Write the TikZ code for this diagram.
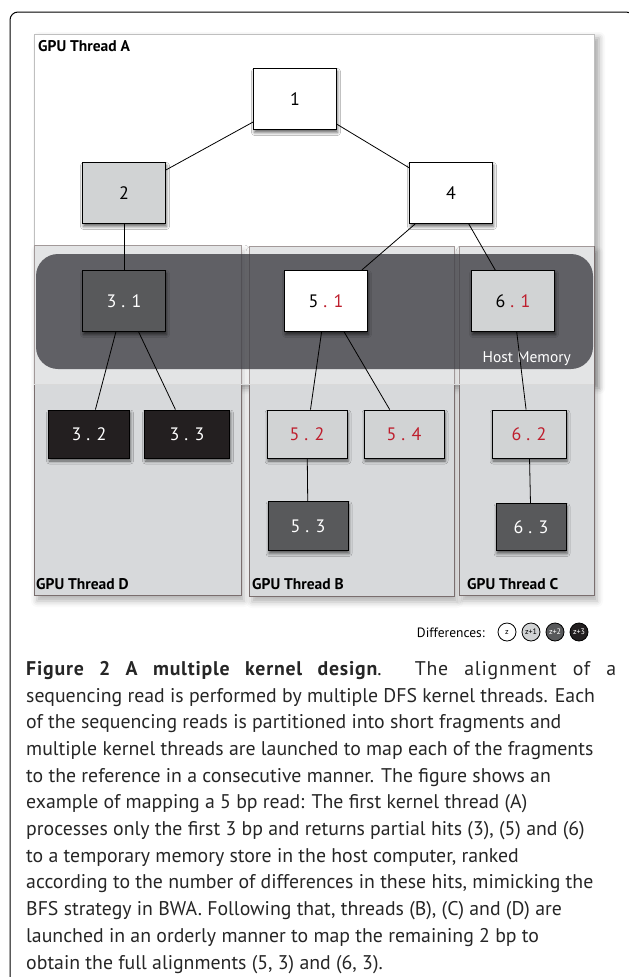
\documentclass[tikz,border=0pt]{standalone}
\usepackage{fontspec}
\setmainfont{PT Sans}
\usetikzlibrary{shadows,shadows.blur}
\definecolor{boxlight}{HTML}{D1D3D4}
\definecolor{boxdark}{HTML}{58595B}
\definecolor{boxblack}{HTML}{231F20}
\definecolor{diffred}{HTML}{BE1E2D}
\definecolor{panelfill}{HTML}{D7D9DB}
\definecolor{panelline}{HTML}{7A6E6E}
\definecolor{hostgray}{HTML}{3C3C42}

\begin{document}
\begin{tikzpicture}
[x=1pt,y=-1pt,-,%
  hit/.style={shape=rectangle,draw=black,line width=0.9pt,inner sep=0pt,%
    minimum width=83pt,minimum height=61pt,%
    font=\fontsize{18}{20}\selectfont,%
    blur shadow={shadow xshift=1pt,shadow yshift=-3pt,shadow blur radius=3pt,shadow opacity=60}},%
  hitsmall/.style={hit,minimum width=80pt,minimum height=48pt},%
  panel/.style={draw=panelline,line width=1pt,fill=panelfill,%
    blur shadow={shadow xshift=3pt,shadow yshift=-6pt,shadow blur radius=6pt,shadow opacity=30}},%
  thread/.style={anchor=west,inner sep=0pt,font=\fontsize{15.5}{17}\selectfont\bfseries},%
  diff/.style={shape=circle,draw=black,line width=0.8pt,inner sep=0pt,%
    minimum size=18pt,font=\fontsize{8}{9}\selectfont}]
\useasboundingbox (0,0) rectangle (629,977);
% outer frame
\draw[line width=1pt,rounded corners=8pt] (10,990) -- (10,12) -- (634,12) -- (634,990);
% thread panels
\draw[draw=black!25,line width=1pt,fill=white,%
  blur shadow={shadow xshift=5pt,shadow yshift=-4pt,shadow blur radius=6pt,shadow opacity=35}]
  (34,34) rectangle (594,384);
\draw[panel] (34,245) rectangle (241,595);
\draw[panel] (249,246) rectangle (454,596);
\draw[panel] (459,246) rectangle (594,595);
\fill[white,opacity=0.3] (34,245) rectangle (594,384);
\draw[black!15,line width=1pt] (34,384) -- (594,384);
% host memory
\fill[hostgray,opacity=0.78,rounded corners=22pt] (36,254) rectangle (593,369);
\node[anchor=east,inner sep=0pt,white,font=\fontsize{15.5}{17}\selectfont] (host) at (571,359) {Host Memory};
% hits
\node[hit,fill=white] (1) at (295,99) {1};
\node[hit,fill=boxlight] (2) at (124,193) {2};
\node[hit,fill=white] (4) at (451,193) {4};
\node[hit,fill=boxdark,text=white] (31) at (124,301) {3 . 1};
\node[hit,fill=white] (51) at (326,301) {5 \textcolor{diffred}{. 1}};
\node[hit,fill=boxlight] (61) at (513,301) {6 \textcolor{diffred}{. 1}};
\node[hitsmall,fill=boxblack,text=white,minimum width=81pt] (32) at (89,434) {3 . 2};
\node[hitsmall,fill=boxblack,text=white,minimum width=85pt] (33) at (187,434) {3 . 3};
\node[hitsmall,fill=boxlight,text=diffred] (52) at (307,434) {5 . 2};
\node[hitsmall,fill=boxlight,text=diffred] (54) at (404,434) {5 . 4};
\node[hitsmall,fill=boxlight,text=diffred,minimum width=74pt] (62) at (529,434) {6 . 2};
\node[hitsmall,fill=boxdark,text=white,minimum height=49pt] (53) at (308,526) {5 . 3};
\node[hitsmall,fill=boxdark,text=white,minimum width=70pt,minimum height=47pt] (63) at (531,527) {6 . 3};
\path[line width=0.8pt]
(1) edge (2)
(1) edge (4)
(2) edge (31)
(4) edge (51)
(4) edge (61)
(31) edge (32)
(31) edge (33)
(51) edge (52)
(51) edge (54)
(52) edge (53)
(61) edge (62)
(62) edge (63);
% thread names
\node[thread] (threadA) at (38,46) {GPU Thread A};
\node[thread] (threadD) at (36,584) {GPU Thread D};
\node[thread] (threadB) at (252,584) {GPU Thread B};
\node[thread] (threadC) at (467,584) {GPU Thread C};
% legend
\node[anchor=east,inner sep=0pt,font=\fontsize{13.5}{15}\selectfont] (difflabel) at (485,633) {Differences:};
\node[diff,fill=white] (z0) at (507,632) {z};
\node[diff,fill=boxlight] (z1) at (531,632) {z+1};
\node[diff,fill=boxdark,text=white] (z2) at (555,632) {z+2};
\node[diff,fill=boxblack,text=white] (z3) at (579,632) {z+3};
% caption
\node[anchor=north west,inner sep=0pt,align=left,text=black!85,%
  font=\fontsize{19.8}{26.7}\selectfont] (caption) at (26,661)
{\makebox[590pt][s]{\textbf{\addfontfeature{LetterSpace=4}Figure 2 A multiple kernel design}.
  \addfontfeature{LetterSpace=4}The alignment of a}\\
sequencing read is performed by multiple DFS kernel threads. Each\\
of the sequencing reads is partitioned into short fragments and\\
multiple kernel threads are launched to map each of the fragments\\
to the reference in a consecutive manner. The figure shows an\\
example of mapping a 5 bp read: The first kernel thread (A)\\
processes only the first 3 bp and returns partial hits (3), (5) and (6)\\
to a temporary memory store in the host computer, ranked\\
according to the number of differences in these hits, mimicking the\\
BFS strategy in BWA. Following that, threads (B), (C) and (D) are\\
launched in an orderly manner to map the remaining 2 bp to\\
obtain the full alignments (5, 3) and (6, 3).};
\end{tikzpicture}
\end{document}
